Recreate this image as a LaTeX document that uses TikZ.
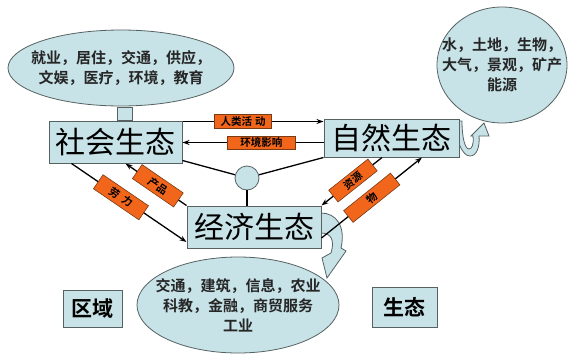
\documentclass[tikz,border=0pt]{standalone}
\usepackage{fontspec}
\setmainfont{Noto Sans CJK SC}[BoldFont={Noto Sans CJK SC Bold}]
\usetikzlibrary{arrows.meta,shapes.geometric,calc}
\definecolor{lb}{HTML}{C7E3E7}
\definecolor{bd}{HTML}{566262}
\definecolor{og}{HTML}{F2661C}
\definecolor{ogb}{HTML}{7A3A12}
\tikzset{
  ecobox/.style={draw=bd, fill=lb, line width=1pt, inner sep=0pt},
  ellshape/.style={ellipse, draw=bd, fill=lb, line width=0.8pt, inner sep=0pt},
  elltext/.style={align=center, inner sep=0pt, font=\fontsize{15}{20}\selectfont\bfseries, text=black!85},
  lab/.style={draw=ogb, fill=og, line width=0.6pt, inner sep=0pt, font=\fontsize{10.5}{11}\selectfont\bfseries, text=black},
  arr/.style={-{Stealth[length=7pt,width=5pt]}, line width=1.3pt},
  ln/.style={line width=1.3pt},
  curl/.style={draw=bd, fill=lb, line width=0.8pt}
}
\begin{document}
\begin{tikzpicture}[x=1pt,y=-1pt]
\fill[white] (0,0) rectangle (568,359);
\useasboundingbox (0,0) rectangle (568,359);

% ellipses
\node[ellshape, minimum width=226pt, minimum height=76pt] (e1) at (121,68) {};
\node[elltext] (t1) at (e1) {就业，居住，交通，供应，\\文娱，医疗，环境，教育};
\node[ellshape, minimum width=130pt, minimum height=116pt] (e2) at (502,65) {};
\node[elltext] (t2) at (e2) {水，土地，生物，\\大气，景观，矿产\\能源};
\node[ellshape, minimum width=202pt, minimum height=96pt] (e3) at (238,305) {};
\node[elltext] (t3) at (e3) {交通，建筑，信息，农业\\科教，金融，商贸服务\\工业};

% connector square
\node[ecobox, line width=0.8pt, minimum width=15pt, minimum height=13pt] (sq) at (124.5,113.5) {};

% curls
\filldraw[curl] (454,121) .. controls (456,140) and (462,156) .. (470,156)
  .. controls (477,156) and (480,146) .. (479,136) -- (489,136) -- (484,123)
  -- (471,136) -- (473,136) .. controls (474,144) and (472,149) .. (469,149)
  .. controls (465,149) and (462,138) .. (462,121) -- cycle;
\filldraw[curl] (321,213) .. controls (336,213) and (346,226) .. (341,248)
  -- (346,251) -- (327,278) -- (322,258) -- (331,253)
  .. controls (335,240) and (331,233) .. (321,233) -- cycle;

% main boxes
\node[ecobox, minimum width=133pt, minimum height=42pt, font=\fontsize{30}{30}\selectfont] (soc) at (115.5,142) {社会生态};
\node[ecobox, minimum width=135pt, minimum height=38pt, font=\fontsize{30}{30}\selectfont] (nat) at (391.5,138) {自然生态};
\node[ecobox, minimum width=134pt, minimum height=42pt, font=\fontsize{30}{30}\selectfont] (eco) at (254,227) {经济生态};
\node[ecobox, minimum width=59pt, minimum height=37pt, font=\fontsize{21}{21}\selectfont\bfseries] (qy) at (92.5,308.5) {区域};
\node[ecobox, minimum width=65pt, minimum height=40pt, font=\fontsize{21}{21}\selectfont\bfseries] (st) at (404.5,307) {生态};

% small circle
\node[circle, draw=bd, fill=lb, line width=0.8pt, minimum size=24pt, inner sep=0pt] (sc) at (247,178) {};
\draw[ln] ([yshift=3pt]soc.south east) -- (sc);
\draw[ln] (sc) -- (nat.south west);
\draw[ln] (sc) -- (sc |- eco.north);

% horizontal arrows
\draw[arr] ([yshift=-1pt]soc.north east) -- ([yshift=-1pt]soc.north east -| nat.west)
  node[lab, pos=0.43, minimum width=57pt, minimum height=14pt] (l1) {人类活\hspace{3pt}动};
\draw[arr] ([yshift=-4.5pt]nat.west) -- ([yshift=-4.5pt]nat.west -| soc.east)
  node[lab, pos=0.44, minimum width=68pt, minimum height=13pt] (l2) {环境影响};

% diagonal arrows
\draw[arr] ([xshift=23pt]soc.south west) -- ([yshift=-15pt]eco.west)
  node[lab, sloped, pos=0.43, minimum width=55pt, minimum height=17pt] (l3) {劳\hspace{5pt}力};
\draw[arr] (eco.north west) -- ([xshift=10pt]soc.south)
  node[lab, sloped, pos=0.47, minimum width=50pt, minimum height=17pt] (l4) {产品};
\draw[arr] ([xshift=-9.5pt]nat.south) -- (eco.north east)
  node[lab, sloped, pos=0.48, minimum width=50pt, minimum height=15pt] (l5) {资源};
\draw[arr] ([yshift=-11pt]eco.east) -- ([xshift=30.5pt]nat.south)
  node[lab, sloped, pos=0.5, minimum width=60pt, minimum height=15pt] (l6) {物};
\end{tikzpicture}
\end{document}
